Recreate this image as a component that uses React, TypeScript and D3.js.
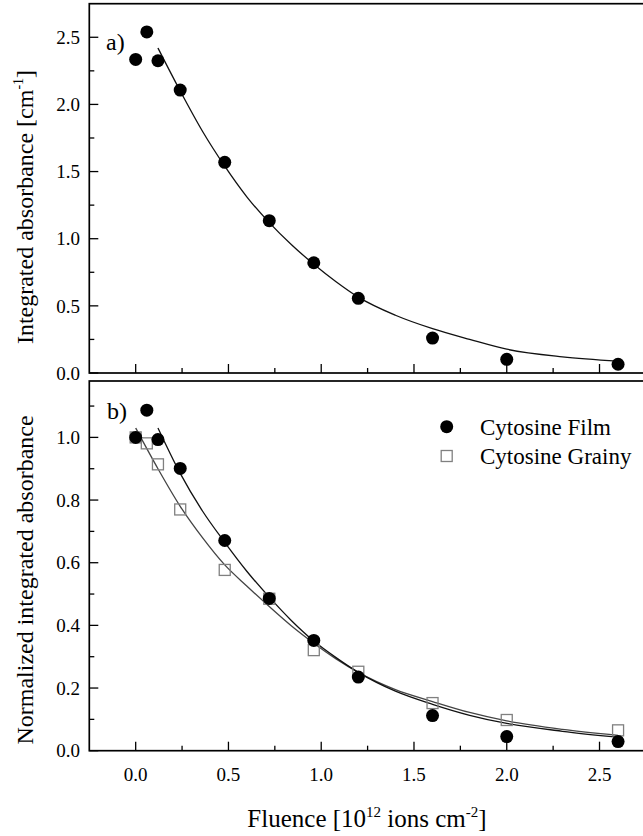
import React from 'react';
import * as d3 from 'd3';

// ---- data ----
const fluence = [0, 0.06, 0.12, 0.24, 0.48, 0.72, 0.96, 1.2, 1.6, 2.0, 2.6];
const absorbanceFilm = [2.335, 2.54, 2.325, 2.107, 1.569, 1.134, 0.821, 0.556, 0.26, 0.102, 0.065];
const normalizedFilm = [1.0, 1.087, 0.993, 0.901, 0.671, 0.486, 0.352, 0.235, 0.112, 0.045, 0.029];
const normalizedGrainy = [1.0, 0.981, 0.914, 0.77, 0.577, 0.485, 0.321, 0.252, 0.152, 0.098, 0.065];

// fitted curves
const fitFilmX = [0.12, 0.24, 0.36, 0.48, 0.6, 0.72, 0.84, 0.96, 1.08, 1.2, 1.4, 1.6, 1.8, 2.0, 2.3, 2.6];
const fitAbsorbance = [2.42, 2.1, 1.8, 1.54, 1.31, 1.12, 0.955, 0.81, 0.68, 0.565, 0.43, 0.33, 0.25, 0.177, 0.12, 0.088];
const fitNormFilm = [1.03, 0.885, 0.765, 0.665, 0.572, 0.49, 0.415, 0.35, 0.297, 0.25, 0.19, 0.148, 0.113, 0.087, 0.062, 0.043];
const fitGrainyX = [0, 0.12, 0.24, 0.36, 0.48, 0.6, 0.72, 0.84, 0.96, 1.08, 1.2, 1.4, 1.6, 1.8, 2.0, 2.3, 2.6];
const fitNormGrainy = [1.03, 0.9, 0.78, 0.68, 0.593, 0.525, 0.46, 0.398, 0.343, 0.293, 0.25, 0.195, 0.157, 0.122, 0.095, 0.068, 0.049];

// axes
const xDomain = [-0.25, 2.75];
const xMajor = [0, 0.5, 1.0, 1.5, 2.0, 2.5];
const xMinor = [0.25, 0.75, 1.25, 1.75, 2.25];
const xLabels = ['0.0', '0.5', '1.0', '1.5', '2.0', '2.5'];
const topDomain = [0, 2.75];
const topMajor = [0, 0.5, 1.0, 1.5, 2.0, 2.5];
const topMinor = [0.25, 0.75, 1.25, 1.75, 2.25];
const topLabels = ['0.0', '0.5', '1.0', '1.5', '2.0', '2.5'];
const botDomain = [0, 1.18];
const botMajor = [0, 0.2, 0.4, 0.6, 0.8, 1.0];
const botMinor = [0.1, 0.3, 0.5, 0.7, 0.9, 1.1];
const botLabels = ['0.0', '0.2', '0.4', '0.6', '0.8', '1.0'];
const legendNames = ['Cytosine Film', 'Cytosine Grainy'];

const FONT = "'Liberation Serif', 'DejaVu Serif', 'Times New Roman', Times, serif";
const fontStyle = { fontFamily: FONT };

export default function App() {
  const W = 643, H = 836;
  const L = 89.3, R = 645.9;
  const x = d3.scaleLinear().domain(xDomain).range([L, R]);
  const yTop = d3.scaleLinear().domain(topDomain).range([373, 3.7]);
  const yBot = d3.scaleLinear().domain(botDomain).range([750.7, 381]);

  const mkLine = (ys: d3.ScaleLinear<number, number>) =>
    d3.line<[number, number]>().x(d => x(d[0])).y(d => ys(d[1])).curve(d3.curveMonotoneX);

  const topFit = mkLine(yTop)(fitFilmX.map((v, i) => [v, fitAbsorbance[i]] as [number, number])) || '';
  const botFitFilm = mkLine(yBot)(fitFilmX.map((v, i) => [v, fitNormFilm[i]] as [number, number])) || '';
  const botFitGrainy = mkLine(yBot)(fitGrainyX.map((v, i) => [v, fitNormGrainy[i]] as [number, number])) || '';

  const MAJ = 9, MIN = 5;
  const axisW = 1.7;
  const tickW = 1.3;

  const panel = (
    ys: d3.ScaleLinear<number, number>,
    major: number[], minor: number[], labels: string[], showX: boolean, key: string
  ) => {
    const y0 = ys.range()[0];
    const y1 = ys.range()[1];
    return (
      <g key={key}>
        {xMajor.map(v => (
          <line key={'xm' + v} x1={x(v)} x2={x(v)} y1={y0} y2={y0 - MAJ} stroke="#000" strokeWidth={tickW} />
        ))}
        {xMinor.map(v => (
          <line key={'xn' + v} x1={x(v)} x2={x(v)} y1={y0} y2={y0 - MIN} stroke="#000" strokeWidth={tickW} />
        ))}
        {major.map(v => (
          <line key={'ym' + v} x1={L} x2={L + MAJ} y1={ys(v)} y2={ys(v)} stroke="#000" strokeWidth={tickW} />
        ))}
        {minor.map(v => (
          <line key={'yn' + v} x1={L} x2={L + MIN} y1={ys(v)} y2={ys(v)} stroke="#000" strokeWidth={tickW} />
        ))}
        {major.map((v, i) => (
          <text key={'yl' + v} x={80} y={ys(v)} dy="0.35em" textAnchor="end" fontSize={19} style={fontStyle}>
            {labels[i]}
          </text>
        ))}
        {showX && xMajor.map((v, i) => (
          <text key={'xl' + v} x={x(v)} y={780.5} textAnchor="middle" fontSize={19} style={fontStyle}>
            {xLabels[i]}
          </text>
        ))}
        <rect x={L} y={y1} width={R - L} height={y0 - y1} fill="none" stroke="#000" strokeWidth={axisW} />
      </g>
    );
  };

  return (
    <svg width={W} height={H} style={{ position: 'absolute', left: 0, top: 0, background: '#fff' }}>
      <rect x={0} y={0} width={W} height={H} fill="#fff" />
      {panel(yTop, topMajor, topMinor, topLabels, false, 'top')}
      {panel(yBot, botMajor, botMinor, botLabels, true, 'bot')}

      {/* top panel */}
      <path d={topFit} fill="none" stroke="#111" strokeWidth={1.3} />
      {fluence.map((v, i) => (
        <circle key={'ta' + i} cx={x(v)} cy={yTop(absorbanceFilm[i])} r={6.5} fill="#000" />
      ))}
      <text x={106} y={49.5} fontSize={24} style={fontStyle}>a)</text>

      {/* bottom panel */}
      <path d={botFitGrainy} fill="none" stroke="#444" strokeWidth={1.3} />
      <path d={botFitFilm} fill="none" stroke="#111" strokeWidth={1.3} />
      {fluence.map((v, i) => (
        <rect key={'bg' + i} x={x(v) - 5.5} y={yBot(normalizedGrainy[i]) - 5.5} width={11} height={11}
          fill="none" stroke="#808080" strokeWidth={1.3} />
      ))}
      {fluence.map((v, i) => (
        <circle key={'bf' + i} cx={x(v)} cy={yBot(normalizedFilm[i])} r={6.5} fill="#000" />
      ))}
      <text x={107} y={419} fontSize={24} style={fontStyle}>b)</text>

      {/* legend */}
      <circle cx={446.7} cy={426.7} r={6.5} fill="#000" />
      <rect x={441.2} y={450.5} width={11} height={11} fill="none" stroke="#808080" strokeWidth={1.3} />
      <text x={480} y={434.5} fontSize={23} style={fontStyle}>{legendNames[0]}</text>
      <text x={480} y={463.5} fontSize={23} style={fontStyle}>{legendNames[1]}</text>

      {/* axis titles */}
      <text transform="translate(33,207) rotate(-90)" textAnchor="middle" fontSize={24} style={fontStyle}>
        Integrated absorbance [cm<tspan fontSize={14} dy={-10}>-1</tspan><tspan dy={10}>]</tspan>
      </text>
      <text transform="translate(33,580) rotate(-90)" textAnchor="middle" fontSize={24} style={fontStyle}>
        Normalized integrated absorbance
      </text>
      <text x={367} y={826.5} textAnchor="middle" fontSize={25} style={fontStyle}>
        Fluence [10<tspan fontSize={15} dy={-10}>12</tspan><tspan dy={10}> ions cm</tspan>
        <tspan fontSize={15} dy={-10}>-2</tspan><tspan dy={10}>]</tspan>
      </text>
    </svg>
  );
}
